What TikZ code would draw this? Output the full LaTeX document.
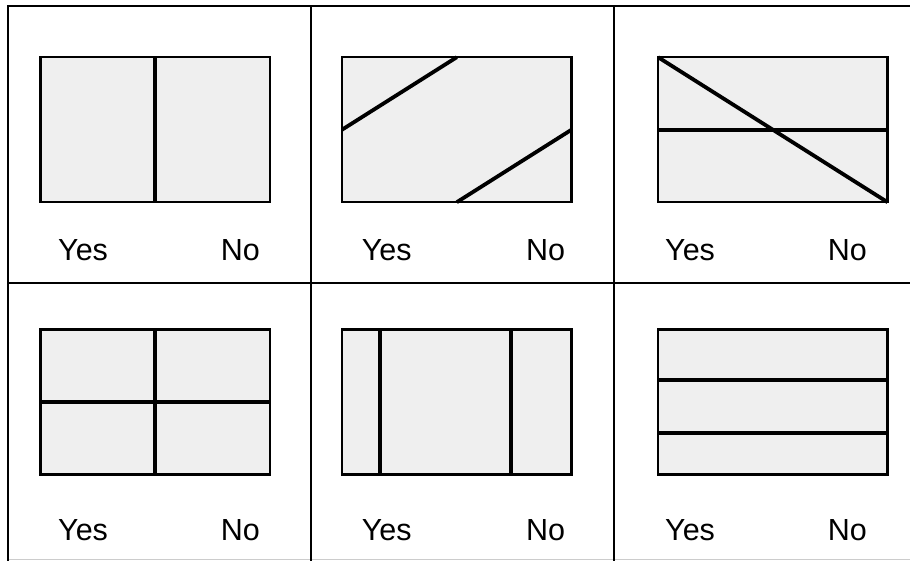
\documentclass[tikz,border=0pt]{standalone}
\usepackage{fontspec}
\setmainfont{Liberation Sans}
\usetikzlibrary{calc}
\definecolor{panelfill}{HTML}{EFEFEF}
\definecolor{edgegray}{HTML}{CCCCCC}
\tikzset{
  panel/.style={draw=black, line width=2.5pt, fill=panelfill, minimum width=229.5pt, minimum height=145pt, inner sep=0pt, outer sep=0pt},
  split/.style={draw=black, line width=3.8pt},
  gridline/.style={draw=black, line width=2.5pt},
  lbl/.style={anchor=base west, inner sep=0pt, font=\fontsize{30.5}{36}\selectfont}
}
\begin{document}
\begin{tikzpicture}[x=1pt, y=-1pt]
\useasboundingbox (0,0) rectangle (910,561);
% grid
\draw[edgegray, line width=1pt] (8,559.5) -- (910,559.5);
\draw[gridline] (8,561) -- (8,6) -- (910,6);
\draw[gridline] (311,6) -- (311,561);
\draw[gridline] (614,6) -- (614,561);
\draw[gridline] (8,283) -- (910,283);
% panels
\node[panel] (b1) at (155,129.3) {};
\node[panel] (b2) at (456.8,129.7) {};
\node[panel] (b3) at (772.8,129.7) {};
\node[panel] (b4) at (155,402) {};
\node[panel] (b5) at (456.8,402) {};
\node[panel] (b6) at (772.8,402) {};
% splits
\draw[split] (b1.north) -- (b1.south);
\draw[split] (b2.west) -- (b2.north);
\draw[split] (b2.south) -- (b2.east);
\draw[split] (b3.west) -- (b3.east);
\draw[split] (b3.north west) -- (b3.south east);
\draw[split] (b4.north) -- (b4.south);
\draw[split] (b4.west) -- (b4.east);
\draw[split] ($(b5.north west)!0.167!(b5.north east)$) -- ($(b5.south west)!0.167!(b5.south east)$);
\draw[split] ($(b5.north west)!0.736!(b5.north east)$) -- ($(b5.south west)!0.736!(b5.south east)$);
\draw[split] ($(b6.north west)!0.347!(b6.south west)$) -- ($(b6.north east)!0.347!(b6.south east)$);
\draw[split] ($(b6.north west)!0.713!(b6.south west)$) -- ($(b6.north east)!0.713!(b6.south east)$);
% labels
\node[lbl] (y1) at (58,261) {Yes};
\node[lbl] (n1) at (220.7,261) {No};
\node[lbl] (y2) at (361.7,261) {Yes};
\node[lbl] (n2) at (526,261) {No};
\node[lbl] (y3) at (665,261) {Yes};
\node[lbl] (n3) at (827.7,261) {No};
\node[lbl] (y4) at (58,540) {Yes};
\node[lbl] (n4) at (220.7,540) {No};
\node[lbl] (y5) at (361.7,540) {Yes};
\node[lbl] (n5) at (526,540) {No};
\node[lbl] (y6) at (665,540) {Yes};
\node[lbl] (n6) at (827.7,540) {No};
\end{tikzpicture}
\end{document}
